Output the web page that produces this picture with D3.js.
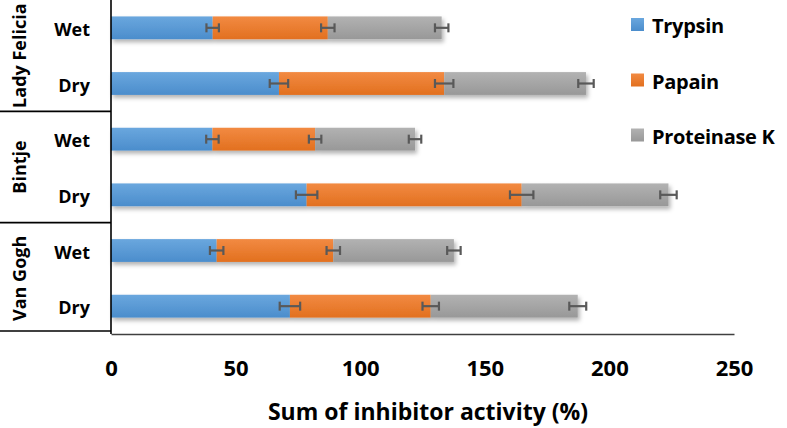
<!DOCTYPE html>
<html>
<head>
<meta charset="utf-8">
<script src="https://cdn.jsdelivr.net/npm/d3@7"></script>
<style>
  html, body { margin: 0; padding: 0; background: #fff; overflow: hidden; }
  text { font-family: "Open Sans", "Noto Sans", sans-serif; font-weight: bold; fill: #000; }
</style>
</head>
<body>
<svg id="chart" width="787" height="428"></svg>
<script>
// ---- data ----
const groups = ["Lady Felicia", "Bintje", "Van Gogh"];
const conditions = ["Wet", "Dry"];
const seriesNames = ["Trypsin", "Papain", "Proteinase K"];
// rows ordered: LF Wet, LF Dry, Bintje Wet, Bintje Dry, Van Gogh Wet, Van Gogh Dry
const trypsin     = [40.8, 67.4, 40.7, 78.5, 42.4, 71.8];
const papain      = [46.2, 66.3, 41.2, 86.3, 46.8, 56.5];
const proteinaseK = [45.7, 56.9, 40.1, 58.9, 48.4, 59.0];
const trypsinErr     = [2.5, 3.7, 2.5, 4.3, 2.7, 4.1];
const papainErr      = [2.7, 3.7, 2.5, 4.7, 2.7, 3.3];
const proteinaseKErr = [2.7, 3.1, 2.5, 3.3, 2.7, 3.4];
const xTicks = [0, 50, 100, 150, 200, 250];
const colors = ["#5b9bd5", "#ed7d31", "#a5a5a5"];

const svg = d3.select("#chart");
const defs = svg.append("defs");
const shade = [["#6aa7de", "#4b8dcc"], ["#f28a42", "#e2701f"], ["#b2b2b2", "#989898"]];
shade.forEach((s, i) => {
  const g = defs.append("linearGradient").attr("id", "grad" + i)
    .attr("x1", 0).attr("y1", 0).attr("x2", 0).attr("y2", 1);
  g.append("stop").attr("offset", "0%").attr("stop-color", s[0]);
  g.append("stop").attr("offset", "100%").attr("stop-color", s[1]);
});
const f = defs.append("filter").attr("id", "shadow")
  .attr("x", "-5%").attr("y", "-40%").attr("width", "110%").attr("height", "200%");
f.append("feDropShadow").attr("dx", 2).attr("dy", 3).attr("stdDeviation", 2)
  .attr("flood-color", "#000").attr("flood-opacity", 0.3);

const rows = [];
groups.forEach(g => conditions.forEach(c => rows.push(g + "|" + c)));
const values = [trypsin, papain, proteinaseK];
const errs = [trypsinErr, papainErr, proteinaseKErr];

const x = d3.scaleLinear().domain([0, 250]).range([111, 734]);
const y = d3.scaleBand().domain(rows).range([0, 334]).paddingInner(0.59).paddingOuter(0.295);

// stacked data
const stackData = rows.map((r, i) => {
  const o = { row: r };
  seriesNames.forEach((s, k) => o[s] = values[k][i]);
  return o;
});
const stacked = d3.stack().keys(seriesNames)(stackData);

// bars
const rowG = svg.append("g").selectAll("g.row").data(rows).join("g")
  .attr("class", "row").attr("filter", "url(#shadow)");
rowG.each(function(r, i) {
  const g = d3.select(this);
  stacked.forEach((layer, k) => {
    const d = layer[i];
    g.append("rect")
      .attr("x", x(d[0]))
      .attr("y", y(r))
      .attr("width", x(d[1]) - x(d[0]))
      .attr("height", y.bandwidth())
      .attr("fill", "url(#grad" + k + ")");
  });
});

// error bars
const eg = svg.append("g").attr("stroke", "#595959").attr("stroke-width", 2.2).attr("fill", "none");
rows.forEach((r, i) => {
  stacked.forEach((layer, k) => {
    const end = layer[i][1];
    const e = errs[k][i];
    const cy = y(r) + y.bandwidth() / 2;
    eg.append("line").attr("x1", x(end - e)).attr("x2", x(end + e)).attr("y1", cy).attr("y2", cy);
    [end - e, end + e].forEach(v => {
      eg.append("line").attr("x1", x(v)).attr("x2", x(v)).attr("y1", cy - 4.5).attr("y2", cy + 4.5);
    });
  });
});

// left box lines
const lines = svg.append("g").attr("stroke", "#000").attr("stroke-width", 1.6);
lines.append("line").attr("x1", 111).attr("x2", 111).attr("y1", 0).attr("y2", 334);
[1, 2].forEach(gi => {
  const yy = y(rows[gi * 2]) - (y.step() - y.bandwidth()) / 2;
  lines.append("line").attr("x1", 0).attr("x2", 111).attr("y1", yy).attr("y2", yy);
});
lines.append("line").attr("x1", 0).attr("x2", 111).attr("y1", 331).attr("y2", 331);

// x axis
const xAxis = svg.append("g").attr("transform", "translate(0,334)")
  .call(d3.axisBottom(x).tickValues(xTicks).tickSize(0).tickPadding(26));
xAxis.select(".domain").attr("stroke", "#404040").attr("stroke-width", 1.6);
xAxis.selectAll("text").style("font-size", "22px").style("font-family", "'Open Sans', sans-serif")
  .style("font-weight", "bold").attr("fill", "#000");

svg.append("text").attr("x", 428).attr("y", 420).attr("text-anchor", "middle")
  .style("font-size", "23px").text("Sum of inhibitor activity (%)");

// row labels
rows.forEach(r => {
  const c = r.split("|")[1];
  svg.append("text").attr("x", 90).attr("y", y(r) + y.bandwidth() / 2 + 1)
    .attr("text-anchor", "end").attr("dominant-baseline", "central")
    .style("font-size", "18px").text(c);
});
// group labels
groups.forEach((g, gi) => {
  const y0 = y(rows[gi * 2]) - (y.step() - y.bandwidth()) / 2;
  const cy = y0 + y.step();
  svg.append("text").attr("transform", `translate(19,${cy}) rotate(-90)`)
    .attr("text-anchor", "middle").attr("dominant-baseline", "central")
    .style("font-size", "18px").text(g);
});

// legend
const leg = svg.append("g");
const legY = [24.5, 80, 135];
seriesNames.forEach((s, k) => {
  leg.append("rect").attr("x", 631).attr("y", legY[k] - 6.5).attr("width", 13).attr("height", 13)
    .attr("fill", "url(#grad" + k + ")");
  leg.append("text").attr("x", 652).attr("y", legY[k] + 1).attr("dominant-baseline", "central")
    .style("font-size", "20px").style("letter-spacing", "-0.3px").text(s);
});
</script>
</body>
</html>
